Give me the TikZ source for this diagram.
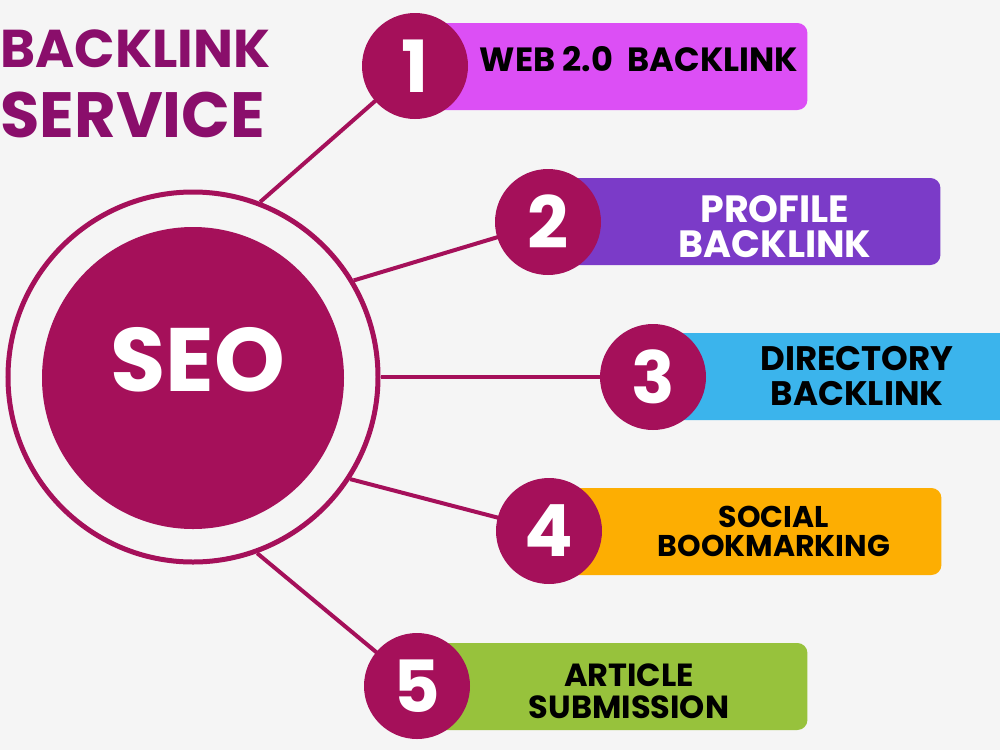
\documentclass[tikz,border=0pt]{standalone}
\usepackage{fontspec}
\setmainfont{Poppins}
\definecolor{bg}{HTML}{F5F5F5}
\definecolor{seo}{HTML}{A5105A}
\definecolor{ttl}{HTML}{8A0E6B}
\definecolor{barA}{HTML}{DC4FF5}
\definecolor{barB}{HTML}{7B3BC8}
\definecolor{barC}{HTML}{3BB4EC}
\definecolor{barD}{HTML}{FDAE02}
\definecolor{barE}{HTML}{97C23C}
\tikzset{
  numcirc/.style={circle, fill=seo, minimum size=53pt, inner sep=0pt, text=white, font=\bfseries\fontsize{36}{36}\selectfont},
  barbox/.style={fill=#1, rounded corners=5pt, draw=none, inner sep=0pt, minimum height=43.5pt, anchor=west},
  bartext/.style={anchor=base, inner sep=0pt},
  link/.style={draw=seo, line width=2pt},
  titletext/.style={anchor=base west, text=ttl, inner sep=0pt},
}
\begin{document}
\begin{tikzpicture}[x=0.5pt,y=-0.5pt]
\useasboundingbox[fill=bg] (0,0) rectangle (1000,750);
% title
\node[titletext, font=\bfseries\fontsize{26.6}{30}\selectfont] (title1) at (0,67) {BACKLINK};
\node[titletext, font=\bfseries\fontsize{32}{34}\selectfont] (title2) at (0,137) {SERVICE};
% central circles
\node[circle, draw=seo, line width=2.5pt, minimum size=185pt, inner sep=0pt] (ring) at (193,377) {};
\node[circle, fill=seo, minimum size=151pt, inner sep=0pt] (core) at (193,378) {};
\node[text=white, font=\bfseries\fontsize{45}{45}\selectfont, inner sep=0pt] (seotxt) at (198,360) {SEO};
% bars
\node[barbox=barA, minimum width=196pt] (b1) at (415,66.5) {};
\node[barbox=barB, minimum width=196pt] (b2) at (548,221.5) {};
\node[barbox=barC, minimum width=190pt] (b3) at (653,376.5) {};
\node[barbox=barD, minimum width=196pt] (b4) at (549,531.5) {};
\node[barbox=barE, minimum width=195pt] (b5) at (417,686.5) {};
% connectors
\draw[link] (ring.69) -- (415,66) coordinate (c1);
\draw[link] (ring.31) -- (548,222) coordinate (c2);
\draw[link] (ring.0) -- (653,377) coordinate (c3);
\draw[link] (ring.-33) -- (549,531) coordinate (c4);
\draw[link] (ring.-70) -- (417,686) coordinate (c5);
% number circles
\node[numcirc] (n1) at (c1) {1};
\node[numcirc] (n2) at (c2) {2};
\node[numcirc] (n3) at (c3) {3};
\node[numcirc] (n4) at (c4) {4};
\node[numcirc] (n5) at (c5) {5};
% bar texts
\node[bartext, font=\bfseries\fontsize{16.8}{17}\selectfont] (t1) at (639,71) {WEB 2.0\ \ BACKLINK};
\node[bartext, text=white, font=\bfseries\fontsize{19}{19}\selectfont] (t2a) at (775,222) {PROFILE};
\node[bartext, text=white, font=\bfseries\fontsize{19}{19}\selectfont] (t2b) at (775,257) {BACKLINK};
\node[bartext, font=\bfseries\fontsize{17}{17}\selectfont] (t3a) at (857,370) {DIRECTORY};
\node[bartext, font=\bfseries\fontsize{17}{17}\selectfont] (t3b) at (857,405) {BACKLINK};
\node[bartext, font=\bfseries\fontsize{15}{15}\selectfont] (t4a) at (774,527) {SOCIAL};
\node[bartext, font=\bfseries\fontsize{15}{15}\selectfont] (t4b) at (774,556) {BOOKMARKING};
\node[bartext, font=\bfseries\fontsize{16}{16}\selectfont] (t5a) at (629,686) {ARTICLE};
\node[bartext, font=\bfseries\fontsize{16}{16}\selectfont] (t5b) at (629,718) {SUBMISSION};
\end{tikzpicture}
\end{document}
